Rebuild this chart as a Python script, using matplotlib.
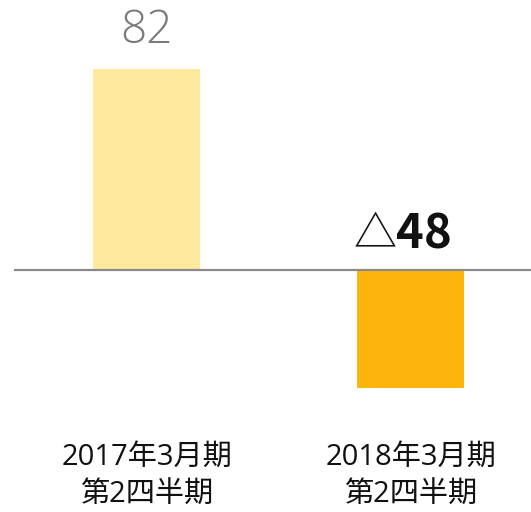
import matplotlib
matplotlib.use("Agg")
import matplotlib.pyplot as plt

plt.rcParams['font.family'] = ['Open Sans', 'Noto Sans CJK JP', 'DejaVu Sans']

categories = ["2017年3月期\n第2四半期", "2018年3月期\n第2四半期"]
values = [82, -48]
value_labels = ["82", "△48"]
bar_colors = ["#FEE99F", "#FDB50E"]

fig = plt.figure(figsize=(5.31, 5.12), dpi=100)
ax = fig.add_axes([0, 0, 1, 1])
ax.set_xlim(-0.555, 1.456)
ax.set_ylim(-98.7, 110.2)
ax.axis("off")

x = list(range(len(categories)))
ax.bar(x, values, width=0.405, color=bar_colors, zorder=1)
ax.plot([-0.502, 1.456], [0, 0], color="#8a8a8a", lw=1.6, zorder=2, solid_capstyle="butt")

# value labels
ax.text(x[0], 97.5, value_labels[0], ha="center", va="center", fontsize=33,
        color="#7a7a7a", fontweight="light")
ax.text(x[1] - 0.052, 14.3, value_labels[1][0], ha="right", va="center", fontsize=31,
        color="#111111", fontweight="normal", family=['Noto Sans CJK JP'])
ax.text(x[1] - 0.055, 14.6, value_labels[1][1:], ha="left", va="center", fontsize=34,
        color="#111111", fontweight="bold", family=['Noto Sans CJK JP'])

for xi, cat in zip(x, categories):
    l1, l2 = cat.split("\n")
    ax.text(xi, -76.3, l1, ha="center", va="center", fontsize=21, color="#111111")
    ax.text(xi, -91.8, l2, ha="center", va="center", fontsize=21, color="#111111")

fig.savefig("out.png", dpi=100)
